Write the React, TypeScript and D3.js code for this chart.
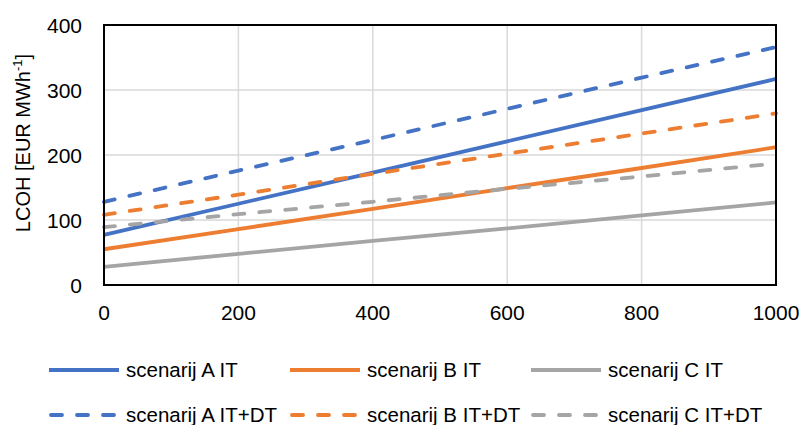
import React from "react";
import * as d3 from "d3";

const xValues = [0, 200, 400, 600, 800, 1000];
const seriesNames = [
  "scenarij A IT",
  "scenarij B IT",
  "scenarij C IT",
  "scenarij A IT+DT",
  "scenarij B IT+DT",
  "scenarij C IT+DT",
];
const aIT = [77, 125, 173, 221, 269, 317];
const bIT = [55, 86, 117, 149, 180, 212];
const cIT = [28, 48, 68, 87, 107, 127];
const aITDT = [128, 176, 223, 271, 319, 366];
const bITDT = [108, 139, 171, 202, 233, 264];
const cITDT = [89, 109, 128, 148, 167, 187];
const xTicks = [0, 200, 400, 600, 800, 1000];
const yTicks = [0, 100, 200, 300, 400];

const colors = ["#4472C4", "#ED7D31", "#A5A5A5", "#4472C4", "#ED7D31", "#A5A5A5"];
const dashed = [false, false, false, true, true, true];
const allValues = [aIT, bIT, cIT, aITDT, bITDT, cITDT];

export default function App() {
  const W = 802, H = 425;
  const L = 104, R = 776, T = 25, B = 285;
  const x = d3.scaleLinear().domain([0, 1000]).range([L, R]);
  const y = d3.scaleLinear().domain([0, 400]).range([B, T]);
  const line = d3
    .line<number>()
    .x((_, i) => x(xValues[i]))
    .y((d) => y(d));
  const font = "'Liberation Sans', Arial, sans-serif";
  const legendX = [49, 290, 531];
  const legendY = [370, 415];
  return (
    <svg
      width={W}
      height={H}
      style={{ position: "absolute", left: 0, top: 0, background: "#fff" }}
      fontFamily={font}
    >
      {yTicks.slice(1, -1).map((t) => (
        <line key={"gy" + t} x1={L} x2={R} y1={y(t)} y2={y(t)} stroke="#D9D9D9" strokeWidth={1.5} />
      ))}
      {xTicks.slice(1, -1).map((t) => (
        <line key={"gx" + t} x1={x(t)} x2={x(t)} y1={T} y2={B} stroke="#D9D9D9" strokeWidth={1.5} />
      ))}
      {allValues.map((vals, i) => (
        <path
          key={"s" + i}
          d={line(vals) || ""}
          fill="none"
          stroke={colors[i]}
          strokeWidth={3.8}
          strokeDasharray={dashed[i] ? "11 15" : undefined}
          strokeLinecap={dashed[i] ? "round" : "butt"}
        />
      ))}
      <rect x={L} y={T} width={R - L} height={B - T} fill="none" stroke="#000" strokeWidth={2} />
      {yTicks.map((t) => (
        <text key={"ty" + t} x={82} y={y(t)} dy="0.36em" textAnchor="end" fontSize={21} fill="#000">
          {t}
        </text>
      ))}
      {xTicks.map((t) => (
        <text key={"tx" + t} x={x(t)} y={320} textAnchor="middle" fontSize={21} fill="#000">
          {t}
        </text>
      ))}
      <text
        transform={`translate(30,143) rotate(-90)`}
        textAnchor="middle"
        fontSize={20}
        fill="#000"
      >
        LCOH [EUR MWh<tspan dy={-8} fontSize={13}>-1</tspan>
        <tspan dy={8}>]</tspan>
      </text>
      {seriesNames.map((name, i) => {
        const lx = legendX[i % 3];
        const ly = legendY[Math.floor(i / 3)];
        return (
          <g key={"lg" + i}>
            <line
              x1={lx + (dashed[i] ? 2 : 0)}
              x2={lx + 70 - (dashed[i] ? 2 : 0)}
              y1={ly}
              y2={ly}
              stroke={colors[i]}
              strokeWidth={3.8}
              strokeDasharray={dashed[i] ? "11 15" : undefined}
              strokeLinecap={dashed[i] ? "round" : "butt"}
            />
            <text x={lx + 77} y={ly} dy="0.36em" fontSize={20.5} fill="#000">
              {name}
            </text>
          </g>
        );
      })}
    </svg>
  );
}
